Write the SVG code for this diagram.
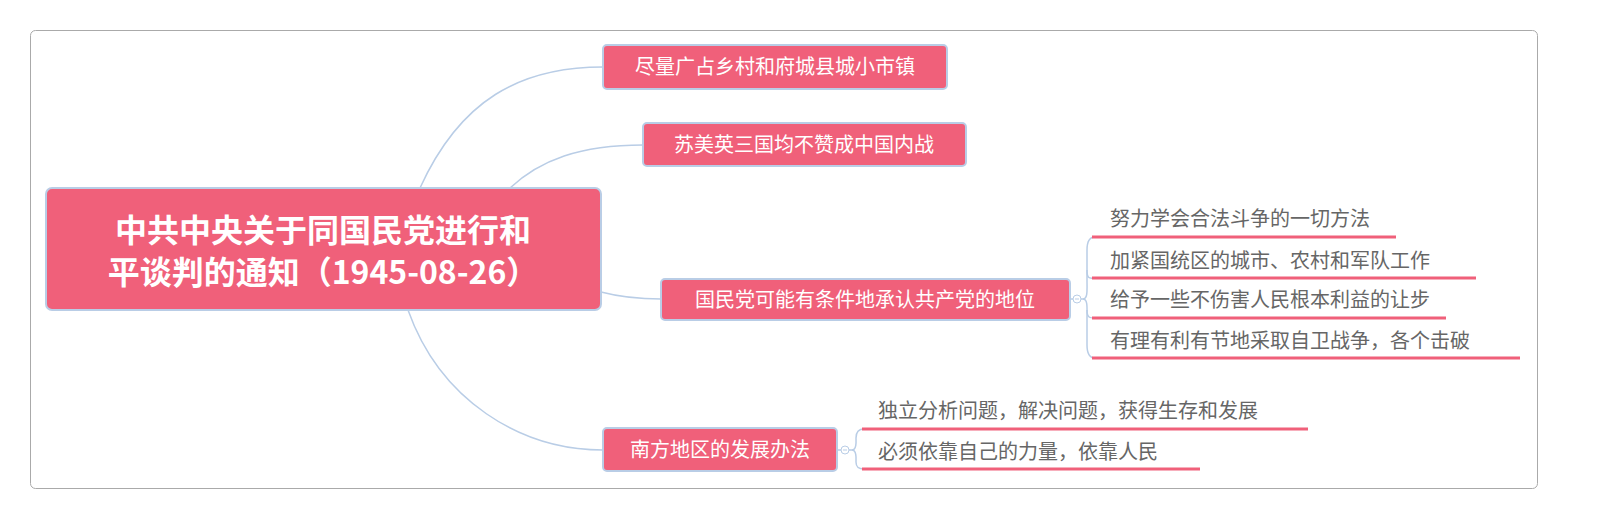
<svg xmlns="http://www.w3.org/2000/svg" width="1603" height="531" viewBox="0 0 1603 531">
<style>
.n{fill:#F0607A;stroke:#B9CDE6;stroke-width:2}
.t{fill:#fff;font-family:"Noto Sans CJK SC","Liberation Sans",sans-serif;font-size:20px}
.r{fill:#fff;font-family:"Noto Sans CJK SC","Liberation Sans",sans-serif;font-size:32px;font-weight:bold}
.l{fill:#666;font-family:"Noto Sans CJK SC","Liberation Sans",sans-serif;font-size:20px}
.c{fill:none;stroke:#B9CDE6;stroke-width:1.5}
.u{stroke:#F0607A;stroke-width:3}
.k{fill:#fff;stroke:#B9CDE6;stroke-width:1}
</style>
<rect x="0" y="0" width="1603" height="531" fill="#fff"/>
<rect x="30.5" y="30.5" width="1507" height="458" rx="5" fill="none" stroke="#aaa"/>
<g id="connectors">
<path class="c" d="M420,188 C460,100 520,67 603,67"/>
<path class="c" d="M510,188 C540,160 580,145 643,145"/>
<path class="c" d="M601,292 C620,297 640,299 661,299"/>
<path class="c" d="M408,310 C440,400 520,450 603,450"/>
<path class="c" d="M1070,299 H1083"/>
<path class="c" d="M1083,299 C1088,299 1087,290 1087,280 V250 C1087,240 1090,237 1095,237"/>
<path class="c" d="M1087,270 C1087,280 1090,278 1095,278"/>
<path class="c" d="M1087,310 C1087,318 1090,318 1095,318"/>
<path class="c" d="M1083,299 C1088,299 1087,308 1087,318 V345 C1087,355 1090,358 1095,358"/>
<path class="c" d="M837,450 H852"/>
<path class="c" d="M852,450 C857,450 856,440 856,438 C856,432 858,429 864,429"/>
<path class="c" d="M852,450 C857,450 856,460 856,462 C856,467 858,469 864,469"/>
<line class="u" x1="1092" y1="237" x2="1396" y2="237"/>
<line class="u" x1="1092" y1="278" x2="1476" y2="278"/>
<line class="u" x1="1092" y1="318" x2="1446" y2="318"/>
<line class="u" x1="1092" y1="358" x2="1520" y2="358"/>
<line class="u" x1="862" y1="429" x2="1308" y2="429"/>
<line class="u" x1="862" y1="469" x2="1200" y2="469"/>
<circle class="k" cx="1077" cy="299" r="4"/><line x1="1075" y1="299" x2="1079" y2="299" stroke="#B9CDE6"/>
<circle class="k" cx="845" cy="450" r="4"/><line x1="843" y1="450" x2="847" y2="450" stroke="#B9CDE6"/>
</g>
<g id="root"><rect class="n" x="46" y="188" width="555" height="122" rx="6"/>
<text class="r" x="323" y="242" text-anchor="middle">中共中央关于同国民党进行和</text>
<text class="r" x="323" y="284" text-anchor="middle">平谈判的通知（1945-08-26）</text></g>
<g id="n1"><rect class="n" x="603" y="45" width="344" height="44" rx="4"/><text class="t" x="775" y="74" text-anchor="middle">尽量广占乡村和府城县城小市镇</text></g>
<g id="n2"><rect class="n" x="643" y="123" width="323" height="43" rx="4"/><text class="t" x="804" y="152" text-anchor="middle">苏美英三国均不赞成中国内战</text></g>
<g id="n3"><rect class="n" x="661" y="279" width="409" height="41" rx="4"/><text class="t" x="865" y="307" text-anchor="middle">国民党可能有条件地承认共产党的地位</text></g>
<g id="n4"><rect class="n" x="603" y="428" width="234" height="43" rx="4"/><text class="t" x="720" y="457" text-anchor="middle">南方地区的发展办法</text></g>
<g id="l1"><text class="l" x="1110" y="226">努力学会合法斗争的一切方法</text></g>
<g id="l2"><text class="l" x="1110" y="268">加紧国统区的城市、农村和军队工作</text></g>
<g id="l3"><text class="l" x="1110" y="307">给予一些不伤害人民根本利益的让步</text></g>
<g id="l4"><text class="l" x="1110" y="348">有理有利有节地采取自卫战争，各个击破</text></g>
<g id="l5"><text class="l" x="878" y="418">独立分析问题，解决问题，获得生存和发展</text></g>
<g id="l6"><text class="l" x="878" y="459">必须依靠自己的力量，依靠人民</text></g>
</svg>
